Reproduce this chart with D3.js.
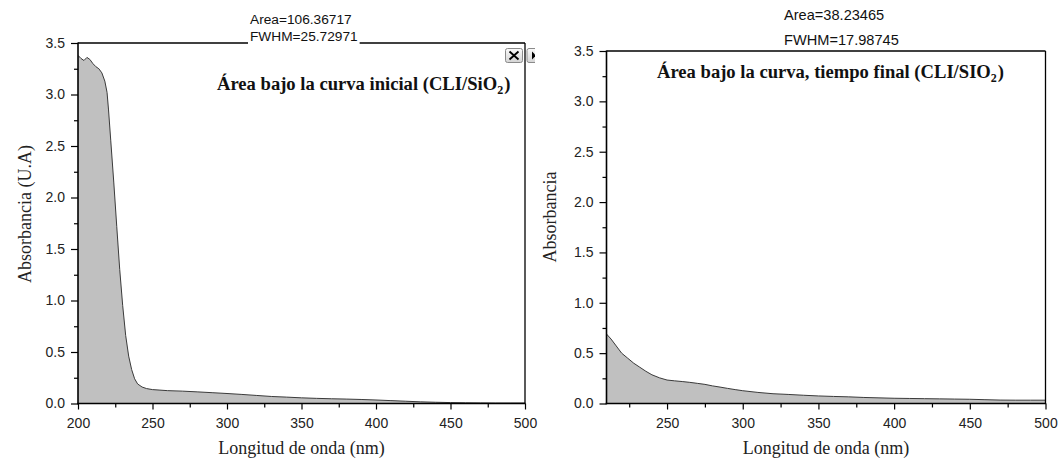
<!DOCTYPE html>
<html><head><meta charset="utf-8">
<script src="https://cdn.jsdelivr.net/npm/d3@7"></script>
<style>body{margin:0;background:#fff} svg{display:block}</style>
</head><body>
<svg id="c" width="1061" height="459"></svg>
<script>
// ---- data ----
const leftWavelength = [200,202,204,206,208,210,212,214,216,218,219.5,220.5,222,224,226,228,230,232,234,236,238,240,243,246,250,255,260,270,280,290,300,310,320,330,340,350,360,370,380,390,400,410,420,430,440,450,460,470,480,490,500];
const leftAbsorbance = [3.38,3.35,3.33,3.36,3.34,3.30,3.27,3.25,3.21,3.13,3.02,2.85,2.55,2.15,1.72,1.30,0.95,0.66,0.46,0.33,0.24,0.19,0.16,0.145,0.135,0.13,0.125,0.12,0.113,0.105,0.097,0.088,0.078,0.068,0.062,0.055,0.050,0.046,0.043,0.039,0.034,0.028,0.022,0.016,0.012,0.009,0.007,0.006,0.005,0.005,0.005];
const rightWavelength = [210,213,216,220,224,228,232,236,240,245,250,255,260,265,270,275,280,285,290,295,300,310,320,330,340,350,360,370,380,390,400,410,420,430,440,450,460,470,480,490,500];
const rightAbsorbance = [0.69,0.64,0.58,0.50,0.45,0.40,0.36,0.32,0.285,0.255,0.233,0.225,0.218,0.21,0.20,0.19,0.175,0.163,0.15,0.138,0.127,0.11,0.097,0.09,0.082,0.075,0.07,0.066,0.06,0.056,0.052,0.05,0.048,0.046,0.044,0.042,0.038,0.034,0.033,0.033,0.033];
const yTicks = [0,0.5,1,1.5,2,2.5,3,3.5];
const yMinorTicks = [0.25,0.75,1.25,1.75,2.25,2.75,3.25];
const leftXTicks = [200,250,300,350,400,450,500];
const rightXTicks = [250,300,350,400,450,500];
const xMinorTicks = [225,275,325,375,425,475];
const leftStats = ["Area=106.36717","FWHM=25.72971"];
const rightStats = ["Area=38.23465","FWHM=17.98745"];
const leftTitle = ["Área bajo la curva inicial (CLI/SiO","2",")"];
const rightTitle = ["Área bajo la curva, tiempo final (CLI/SIO","2",")"];
const leftYLabel = "Absorbancia (U.A)";
const rightYLabel = "Absorbancia";
const xLabel = "Longitud de onda (nm)";

const svg = d3.select("#c");
svg.append("rect").attr("width",1061).attr("height",459).attr("fill","#fff");
const SANS = "'Liberation Sans', Arial, sans-serif";
const SERIF = "'Liberation Serif', 'Times New Roman', serif";

function panel(cfg){
  const g = svg.append("g");
  const x = d3.scaleLinear().domain(cfg.xDomain).range([cfg.x0, cfg.x1]);
  const y = d3.scaleLinear().domain([0,3.5]).range([cfg.y1, cfg.y0]);
  const data = cfg.xs.map((d,i)=>({x:d, y:cfg.ys[i]}));
  const clipId = "clip"+cfg.id;
  g.append("clipPath").attr("id",clipId).append("rect")
    .attr("x",cfg.x0).attr("y",cfg.y0).attr("width",cfg.x1-cfg.x0).attr("height",cfg.y1-cfg.y0);
  const pg = g.append("g").attr("clip-path","url(#"+clipId+")");
  pg.append("path").datum(data)
    .attr("d", d3.area().x(d=>x(d.x)).y0(y(0)).y1(d=>y(d.y)))
    .attr("fill","#c0c0c0");
  pg.append("path").datum(data)
    .attr("d", d3.line().x(d=>x(d.x)).y(d=>y(d.y)))
    .attr("fill","none").attr("stroke","#3a3a3a").attr("stroke-width",1);

  // axes
  const styleAxis = sel => {
    sel.select(".domain").remove();
    sel.selectAll(".tick line").attr("stroke","#000").attr("stroke-width",1.2);
    sel.selectAll(".tick text").attr("fill","#222").style("font-family",SANS).style("font-size","14px");
  };
  g.append("g").attr("transform",`translate(${cfg.x0},0)`)
    .call(d3.axisLeft(y).tickValues(yTicks).tickSize(7).tickPadding(6).tickFormat(d3.format(".1f")))
    .call(styleAxis);
  g.append("g").attr("transform",`translate(${cfg.x0},0)`)
    .call(d3.axisLeft(y).tickValues(yMinorTicks).tickSize(4).tickFormat(""))
    .call(styleAxis);
  g.append("g").attr("transform",`translate(0,${cfg.y1})`)
    .call(d3.axisBottom(x).tickValues(cfg.xTicks).tickSize(6).tickPadding(9).tickFormat(d3.format("d")))
    .call(styleAxis);
  g.append("g").attr("transform",`translate(0,${cfg.y1})`)
    .call(d3.axisBottom(x).tickValues(xMinorTicks).tickSize(4).tickFormat(""))
    .call(styleAxis);

  // frame
  g.append("line").attr("x1",cfg.x0).attr("x2",cfg.x1).attr("y1",cfg.y0).attr("y2",cfg.y0).attr("stroke","#000").attr("stroke-width",1.3);
  g.append("line").attr("x1",cfg.x1).attr("x2",cfg.x1).attr("y1",cfg.y0).attr("y2",cfg.y1).attr("stroke","#000").attr("stroke-width",1.3);
  g.append("line").attr("x1",cfg.x0).attr("x2",cfg.x0).attr("y1",cfg.y0-0.6).attr("y2",cfg.y1+0.8).attr("stroke","#000").attr("stroke-width",1.6);
  g.append("line").attr("x1",cfg.x0-0.8).attr("x2",cfg.x1+0.6).attr("y1",cfg.y1).attr("y2",cfg.y1).attr("stroke","#000").attr("stroke-width",1.6);

  // stats text
  cfg.stats.forEach((s,i)=>{
    const t = g.append("text").attr("x",cfg.statsX).attr("y",cfg.statsY[i])
      .style("font-family",SANS).style("font-size",cfg.statsSize+"px").attr("fill","#111").text(s);
    if (i===1){
      const bb = t.node().getBBox();
      g.insert("rect", function(){return t.node();})
        .attr("x",bb.x-2).attr("y",bb.y).attr("width",bb.width+4).attr("height",bb.height+2).attr("fill","#fff");
    }
  });

  // inner title
  const tt = g.append("text").attr("x",cfg.titleX).attr("y",cfg.titleY)
    .style("font-family",SERIF).style("font-size","18.6px").style("font-weight","bold").attr("fill","#111");
  tt.append("tspan").text(cfg.title[0]);
  tt.append("tspan").attr("dy",4).style("font-size","12px").text(cfg.title[1]);
  tt.append("tspan").attr("dy",-4).attr("dx",1).text(cfg.title[2]);

  // axis labels
  g.append("text").attr("x",(cfg.x0+cfg.x1)/2).attr("y",454).attr("text-anchor","middle")
    .style("font-family",SERIF).style("font-size","18px").attr("fill","#222").text(xLabel);
  g.append("text").attr("transform",`translate(${cfg.yLabelX},${cfg.yLabelY}) rotate(-90)`).attr("text-anchor","middle")
    .style("font-family",SERIF).style("font-size","18px").attr("fill","#222").text(cfg.yLabel);
  return g;
}

panel({id:"L", x0:78, x1:525, y0:43, y1:403.5, xDomain:[200,500], xs:leftWavelength, ys:leftAbsorbance,
  xTicks:leftXTicks, stats:leftStats, statsSize:13.7, statsX:250, statsY:[24,40.5], title:leftTitle, titleX:217, titleY:90,
  yLabel:leftYLabel, yLabelX:31, yLabelY:214});
panel({id:"R", x0:606.5, x1:1045.5, y0:51, y1:403.5, xDomain:[210,500], xs:rightWavelength, ys:rightAbsorbance,
  xTicks:rightXTicks, stats:rightStats, statsSize:14.6, statsX:784, statsY:[20,45], title:rightTitle, titleX:657, titleY:78,
  yLabel:rightYLabel, yLabelX:556, yLabelY:217});

// window buttons (graph window chrome)
const defs = svg.append("defs");
const grad = defs.append("linearGradient").attr("id","btn").attr("x1",0).attr("y1",0).attr("x2",0).attr("y2",1);
grad.append("stop").attr("offset","0").attr("stop-color","#fafafa");
grad.append("stop").attr("offset","1").attr("stop-color","#d4d4d4");
defs.append("clipPath").attr("id","btnclip").append("rect").attr("x",500).attr("y",40).attr("width",35).attr("height",30);
const bg = svg.append("g").attr("clip-path","url(#btnclip)");
bg.append("rect").attr("x",505.5).attr("y",48.5).attr("width",17).attr("height",14).attr("rx",2)
  .attr("fill","url(#btn)").attr("stroke","#8a8a8a");
bg.append("path").attr("d","M509.5,51.5 L518.5,59.5 M518.5,51.5 L509.5,59.5").attr("stroke","#000").attr("stroke-width",1.8);
bg.append("rect").attr("x",527).attr("y",48.5).attr("width",14).attr("height",14).attr("rx",2)
  .attr("fill","url(#btn)").attr("stroke","#8a8a8a");
bg.append("path").attr("d","M532,51.5 L536,55.5 L532,59.5 Z").attr("fill","#000");
</script>
</body></html>
